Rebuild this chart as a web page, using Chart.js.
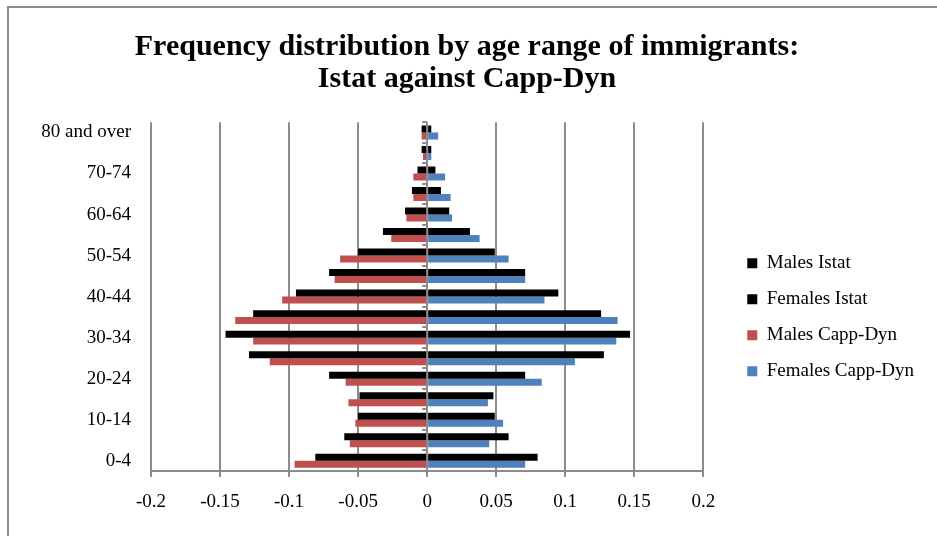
<!DOCTYPE html>
<html>
<head>
<meta charset="utf-8">
<script src="https://cdn.jsdelivr.net/npm/chart.js@4"></script>
<style>
  html, body { margin: 0; padding: 0; background: #fff; overflow: hidden; }
  #frame { position: absolute; left: 7px; top: 6px; width: 1000px; height: 1000px; border: 2px solid #8c8c8c; }
  #wrap { position: absolute; left: 0; top: 0; width: 937px; height: 536px; }
</style>
</head>
<body>
<div id="frame"></div>
<div id="wrap"><canvas id="pyramid" width="937" height="536"></canvas></div>
<script>
// ===============================
// Age pyramid: Istat vs Capp-Dyn
// ===============================

// top to bottom, as drawn
const ageGroups = ["80 and over", "75-79", "70-74", "65-69", "60-64", "55-59", "50-54", "45-49",
    "40-44", "35-39", "30-34", "25-29", "20-24", "15-19", "10-14", "5-9", "0-4"];

const malesIstat = [-0.004, -0.004, -0.007, -0.011, -0.016, -0.032, -0.050, -0.071,
    -0.095, -0.126, -0.146, -0.129, -0.071, -0.049, -0.050, -0.060, -0.081];
const femalesIstat = [0.003, 0.003, 0.006, 0.010, 0.016, 0.031, 0.049, 0.071,
    0.095, 0.126, 0.147, 0.128, 0.071, 0.048, 0.049, 0.059, 0.080];
const malesCapp = [-0.004, -0.003, -0.010, -0.010, -0.015, -0.026, -0.063, -0.067,
    -0.105, -0.139, -0.126, -0.114, -0.059, -0.057, -0.052, -0.056, -0.096];
const femalesCapp = [0.008, 0.003, 0.013, 0.017, 0.018, 0.038, 0.059, 0.071,
    0.085, 0.138, 0.137, 0.107, 0.083, 0.044, 0.055, 0.045, 0.071];

const xTickLabels = ["-0.2", "-0.15", "-0.1", "-0.05", "0", "0.05", "0.1", "0.15", "0.2"];

const gridGray = "#8c8c8c";
const serif = "'Liberation Serif', 'Times New Roman', serif";

// little tick marks on the zero axis, between categories
const zeroAxisTicks = {
    id: "zeroAxisTicks",
    afterDatasetsDraw(chart) {
        const x = chart.scales.x.getPixelForValue(0);
        const y = chart.scales.y;
        const ctx = chart.ctx;
        ctx.save();
        ctx.strokeStyle = gridGray;
        ctx.lineWidth = 2;
        for (let i = 0; i <= ageGroups.length; i++) {
            const py = Math.round(y.getPixelForValue(i - 0.5));
            ctx.beginPath();
            ctx.moveTo(x - 5, py);
            ctx.lineTo(x, py);
            ctx.stroke();
        }
        ctx.restore();
    }
};

new Chart(document.getElementById("pyramid"), {
    type: "bar",
    data: {
        labels: ageGroups,
        datasets: [
            { label: "Males Istat", data: malesIstat, backgroundColor: "#000000", stack: "istat" },
            { label: "Females Istat", data: femalesIstat, backgroundColor: "#000000", stack: "istat" },
            { label: "Males Capp-Dyn", data: malesCapp, backgroundColor: "#C0504D", stack: "capp" },
            { label: "Females Capp-Dyn", data: femalesCapp, backgroundColor: "#4F81BD", stack: "capp" }
        ]
    },
    options: {
        indexAxis: "y",
        responsive: false,
        animation: false,
        datasets: {
            bar: { categoryPercentage: 0.68, barPercentage: 1.0 }
        },
        layout: {
            padding: { left: 10, right: 13, top: 0, bottom: 0 }
        },
        plugins: {
            title: {
                display: true,
                text: ["Frequency distribution by age range of immigrants:", "Istat against Capp-Dyn"],
                color: "#000",
                font: { family: serif, size: 30, weight: "bold", lineHeight: 1.07 },
                padding: { top: 31, bottom: 27 }
            },
            legend: {
                position: "right",
                maxWidth: 300,
                title: {
                    display: true,
                    text: " ",
                    font: { family: serif, size: 18 },
                    padding: { top: 77, bottom: 0 }
                },
                labels: {
                    color: "#000",
                    boxWidth: 10,
                    boxHeight: 10,
                    padding: 17,
                    font: { family: serif, size: 19 }
                }
            },
            tooltip: { enabled: false }
        },
        scales: {
            x: {
                stacked: true,
                min: -0.2,
                max: 0.2,
                afterFit: s => { s.height = 65; },
                ticks: {
                    stepSize: 0.05,
                    color: "#000",
                    padding: 14,
                    font: { family: serif, size: 19 },
                    callback: (v, i) => xTickLabels[i]
                },
                grid: {
                    color: gridGray,
                    lineWidth: 2,
                    drawTicks: true,
                    tickLength: 6,
                    tickColor: gridGray
                },
                border: { display: true, color: gridGray, width: 2 }
            },
            y: {
                afterFit: s => { s.width = 141; },
                ticks: {
                    autoSkip: false,
                    color: "#000",
                    padding: 20,
                    font: { family: serif, size: 19 },
                    callback: (v, i) => (ageGroups.length - 1 - i) % 2 === 0 ? ageGroups[i] : ""
                },
                grid: { display: false, drawTicks: false },
                border: { display: false }
            },
            // empty gap between the plot and the legend
            gap: {
                axis: "y",
                type: "linear",
                position: "right",
                afterFit: s => { s.width = 27; },
                ticks: { display: false },
                grid: { display: false, drawTicks: false },
                border: { display: false }
            }
        }
    },
    plugins: [zeroAxisTicks]
});
</script>
</body>
</html>
